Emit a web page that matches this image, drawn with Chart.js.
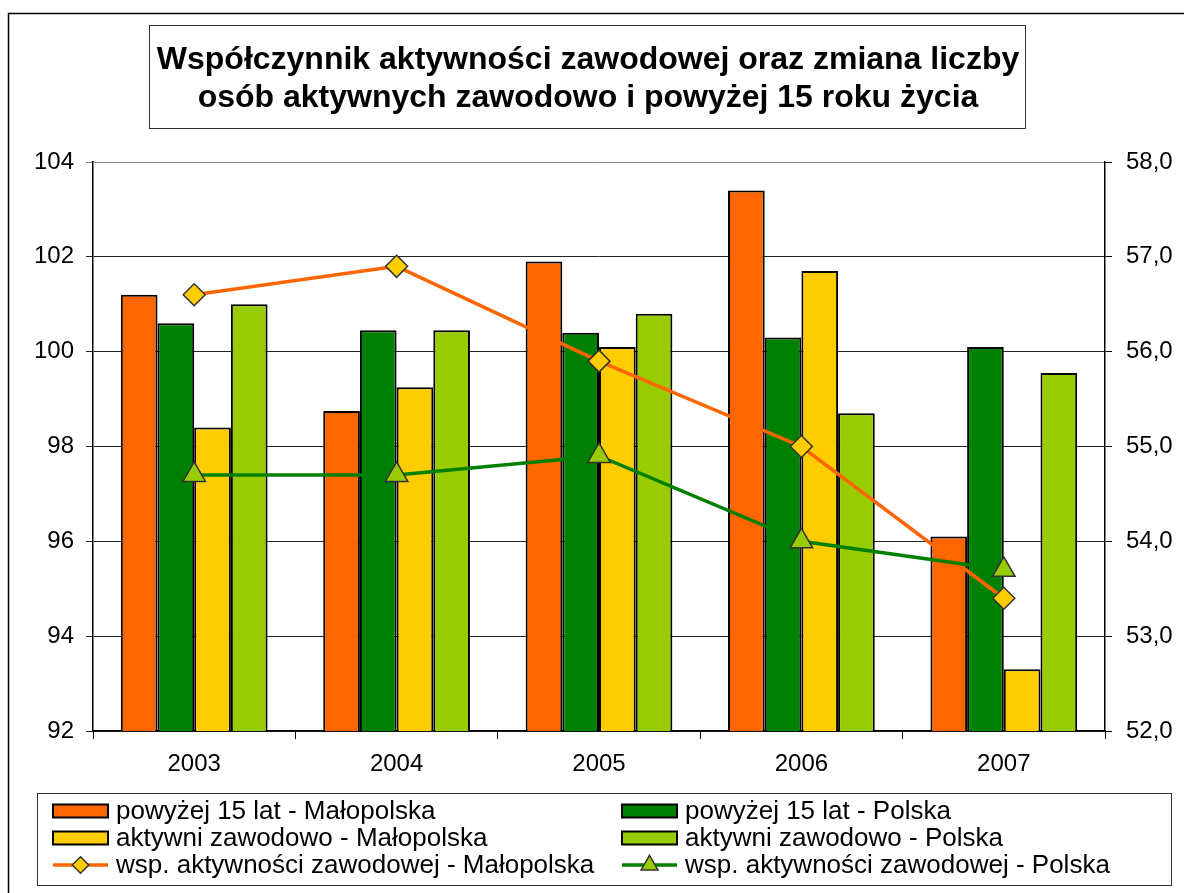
<!DOCTYPE html>
<html>
<head>
<meta charset="utf-8">
<script src="https://cdn.jsdelivr.net/npm/chart.js@4.4.0/dist/chart.umd.min.js"></script>
<style>
  body { margin: 0; background: #fff; }
  #wrap { width: 1184px; height: 893px; }
</style>
</head>
<body>
<div id="wrap"><canvas id="myChart" width="1184" height="893"></canvas></div>
<script>
// dane
var years = ['2003', '2004', '2005', '2006', '2007'];
var popMalopolska = [101.2, 98.75, 101.9, 103.4, 96.1];
var popPolska = [100.6, 100.45, 100.4, 100.3, 100.1];
var aktMalopolska = [98.4, 99.25, 100.1, 101.7, 93.3];
var aktPolska = [101.0, 100.45, 100.8, 98.7, 99.55];
var wspMalopolska = [56.6, 56.9, 55.9, 55.0, 53.4];
var wspPolska = [54.7, 54.7, 54.9, 54.0, 53.7];

var titleLines = ['Współczynnik aktywności zawodowej oraz zmiana liczby',
                  'osób aktywnych zawodowo i powyżej 15 roku życia'];

var FONT = "'Liberation Sans', Arial, sans-serif";

// ramka, tytul i legenda rysowane recznie
var decor = {
  id: 'decor',
  beforeDraw: function(chart) {
    var c = chart.ctx;
    c.save();
    c.fillStyle = '#fff';
    c.fillRect(0, 0, chart.width, chart.height);
    c.strokeStyle = '#000';
    c.lineWidth = 1.5;
    c.strokeRect(8.5, 13.5, 1200, 900);
    c.restore();
  },
  afterDraw: function(chart) {
    var c = chart.ctx;
    var ds = chart.data.datasets;
    c.save();

    // tytul
    c.strokeStyle = '#333';
    c.lineWidth = 1;
    c.strokeRect(149.5, 25.5, 876, 103);
    c.fillStyle = '#000';
    c.font = 'bold 32px ' + FONT;
    c.textAlign = 'center';
    c.textBaseline = 'middle';
    c.fillText(titleLines[0], 588, 60);
    c.fillText(titleLines[1], 588, 98);

    // legenda
    c.strokeStyle = '#333';
    c.strokeRect(37.5, 793.5, 1134, 92);
    var cols = [53, 622];
    var rows = [811, 838, 865];
    var order = [[0, 2, 4], [1, 3, 5]];
    c.font = '26px ' + FONT;
    c.textAlign = 'left';
    for (var ci = 0; ci < 2; ci++) {
      for (var ri = 0; ri < 3; ri++) {
        var d = ds[order[ci][ri]];
        var x = cols[ci], y = rows[ri];
        if (d.type === 'line') {
          c.strokeStyle = d.borderColor;
          c.lineWidth = 3.5;
          c.beginPath();
          c.moveTo(x, y);
          c.lineTo(x + 55, y);
          c.stroke();
          c.fillStyle = d.pointBackgroundColor;
          c.strokeStyle = d.pointBorderColor;
          c.lineWidth = 1.5;
          Chart.helpers.drawPoint(c, {pointStyle: d.pointStyle, radius: d.pointRadius * 0.75, rotation: 0, borderWidth: 1.5}, x + 27.5, y);
        } else {
          c.fillStyle = d.backgroundColor;
          c.strokeStyle = '#000';
          c.lineWidth = 2;
          c.fillRect(x, y - 6.5, 55, 13);
          c.strokeRect(x, y - 6.5, 55, 13);
        }
        c.fillStyle = '#000';
        c.fillText(d.label, x + 63, y + 1);
      }
    }
    c.restore();
  }
};

var ctx = document.getElementById('myChart').getContext('2d');

var chart = new Chart(ctx, {
  type: 'bar',
  data: {
    labels: years,
    datasets: [
      {
        label: 'powyżej 15 lat - Małopolska',
        data: popMalopolska,
        backgroundColor: '#FF6600',
        borderColor: '#000',
        borderWidth: 2,
        yAxisID: 'y',
        order: 2
      },
      {
        label: 'powyżej 15 lat - Polska',
        data: popPolska,
        backgroundColor: '#008000',
        borderColor: '#000',
        borderWidth: 2,
        yAxisID: 'y',
        order: 2
      },
      {
        label: 'aktywni zawodowo - Małopolska',
        data: aktMalopolska,
        backgroundColor: '#FFCC00',
        borderColor: '#000',
        borderWidth: 2,
        yAxisID: 'y',
        order: 2
      },
      {
        label: 'aktywni zawodowo - Polska',
        data: aktPolska,
        backgroundColor: '#99CC00',
        borderColor: '#000',
        borderWidth: 2,
        yAxisID: 'y',
        order: 2
      },
      {
        type: 'line',
        label: 'wsp. aktywności zawodowej - Małopolska',
        data: wspMalopolska,
        borderColor: '#FF6600',
        borderWidth: 3.5,
        tension: 0,
        pointStyle: 'rectRot',
        pointRadius: 11,
        pointBackgroundColor: '#FFCC00',
        pointBorderColor: '#333',
        pointBorderWidth: 1.5,
        yAxisID: 'y1',
        order: 1
      },
      {
        type: 'line',
        label: 'wsp. aktywności zawodowej - Polska',
        data: wspPolska,
        borderColor: '#008000',
        borderWidth: 3.5,
        tension: 0,
        pointStyle: 'triangle',
        pointRadius: 13,
        pointBackgroundColor: '#99CC00',
        pointBorderColor: '#333',
        pointBorderWidth: 1.5,
        yAxisID: 'y1',
        order: 0
      }
    ]
  },
  options: {
    responsive: false,
    animation: false,
    devicePixelRatio: 1,
    datasets: {
      bar: { categoryPercentage: 0.725, barPercentage: 1.0 }
    },
    layout: { padding: { top: 162, bottom: 112, left: 0, right: 0 } },
    plugins: {
      legend: { display: false },
      title: { display: false },
      tooltip: { enabled: false }
    },
    scales: {
      x: {
        offset: true,
        grid: { display: true, drawOnChartArea: false, offset: true, color: '#000', tickLength: 8 },
        border: { color: '#000', width: 1.5 },
        ticks: { color: '#000', font: { family: FONT, size: 24 }, padding: 11 },
        afterFit: function(s) { s.height = 50; }
      },
      y: {
        position: 'left',
        min: 92,
        max: 104,
        ticks: { stepSize: 2, color: '#000', font: { family: FONT, size: 24 }, padding: 12 },
        grid: {
          color: function(c) { return c.tick && c.tick.value === 104 ? '#888' : '#222'; },
          lineWidth: 1,
          tickLength: 7
        },
        border: { color: '#000', width: 1.5 },
        afterFit: function(s) { s.width = 93; }
      },
      y1: {
        position: 'right',
        min: 52,
        max: 58,
        ticks: {
          stepSize: 1,
          color: '#000',
          font: { family: FONT, size: 24 },
          padding: 14,
          callback: function(v) { return v.toFixed(1).replace('.', ','); }
        },
        grid: { drawOnChartArea: false, color: '#000', tickLength: 7 },
        border: { color: '#000', width: 1.5 },
        afterFit: function(s) { s.width = 79; }
      }
    }
  },
  plugins: [decor]
});
</script>
</body>
</html>
